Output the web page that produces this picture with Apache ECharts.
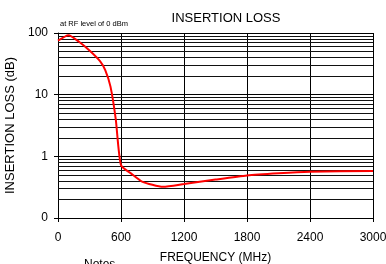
<!DOCTYPE html>
<html>
<head>
<meta charset="utf-8">
<script src="https://cdn.jsdelivr.net/npm/echarts@6/dist/echarts.min.js"></script>
<style>
  html, body { margin: 0; padding: 0; background: #fff; }
  #main { width: 386px; height: 264px; }
</style>
</head>
<body>
<div id="main"></div>
<script>
// frequency (MHz) and insertion loss (dB)
const freq = [0, 100, 200, 300, 400, 450, 500, 550, 600, 700, 800, 1000, 1200, 1500, 1800, 2100, 2400, 3000];
const loss = [75, 92, 72, 52, 35, 25, 13.5, 4, 0.72, 0.52, 0.39, 0.32, 0.355, 0.42, 0.49, 0.53, 0.56, 0.58];

const xTicks = [0, 600, 1200, 1800, 2400, 3000];
// minor log grid lines 2..9 per decade
const minorGrid = [0.2, 0.3, 0.4, 0.5, 0.6, 0.7, 0.8, 0.9,
                   2, 3, 4, 5, 6, 7, 8, 9,
                   20, 30, 40, 50, 60, 70, 80, 90];

const font = 'Liberation Sans, Arial, sans-serif';

const chart = echarts.init(document.getElementById('main'));

const option = {
    animation: false,
    title: {
        text: 'INSERTION LOSS',
        left: 221,
        textAlign: 'center',
        top: 7,
        textStyle: { fontFamily: font, fontSize: 13, fontWeight: 'normal', color: '#000' }
    },
    graphic: [
        {
            type: 'text', left: 60, top: 20,
            style: { text: 'at RF level of 0 dBm', font: '7.5px ' + font, fill: '#000' }
        },
        {
            type: 'text', left: 84, top: 259,
            style: { text: 'Notes', font: '12px ' + font, fill: '#000' }
        }
    ],
    grid: { left: 58, right: 13, top: 33, bottom: 46, outerBoundsMode: 'none' },
    xAxis: {
        type: 'value',
        min: 0,
        max: 3000,
        interval: 600,
        name: 'FREQUENCY (MHz)',
        nameLocation: 'middle',
        nameGap: 34,
        nameTextStyle: { fontFamily: font, fontSize: 12, color: '#000' },
        axisLine: { show: true, lineStyle: { color: '#000', width: 1 } },
        axisTick: { show: true, inside: false, length: 4, lineStyle: { color: '#000' } },
        axisLabel: {
            fontFamily: font, fontSize: 12, color: '#000', margin: 14,
            customValues: xTicks,
            formatter: function (v) { return String(v); }
        },
        splitLine: { show: true, lineStyle: { color: '#000', width: 1 } }
    },
    yAxis: {
        type: 'log',
        logBase: 10,
        min: 0.1,
        max: 100,
        name: 'INSERTION LOSS (dB)',
        nameLocation: 'middle',
        nameGap: 37,
        nameTextStyle: { fontFamily: font, fontSize: 13, color: '#000' },
        axisLine: { show: true, lineStyle: { color: '#000', width: 1 } },
        axisTick: { show: true, length: 4, lineStyle: { color: '#000' } },
        axisLabel: {
            fontFamily: font, fontSize: 12, color: '#000', margin: 10,
            formatter: function (v) { return v < 1 ? '0' : String(Math.round(v)); }
        },
        splitLine: { show: true, lineStyle: { color: '#000', width: 1 } }
    },
    series: [
        {
            type: 'line',
            data: freq.map((f, i) => [f, loss[i]]),
            showSymbol: false,
            smooth: 0.2,
            lineStyle: { color: '#ff0000', width: 2 },
            z: 5,
            markLine: {
                silent: true,
                symbol: 'none',
                label: { show: false },
                lineStyle: { color: '#111', width: 1, type: 'solid' },
                data: minorGrid.map(v => ({ yAxis: v })),
                z: 1
            }
        }
    ]
};

chart.setOption(option);
</script>
</body>
</html>
